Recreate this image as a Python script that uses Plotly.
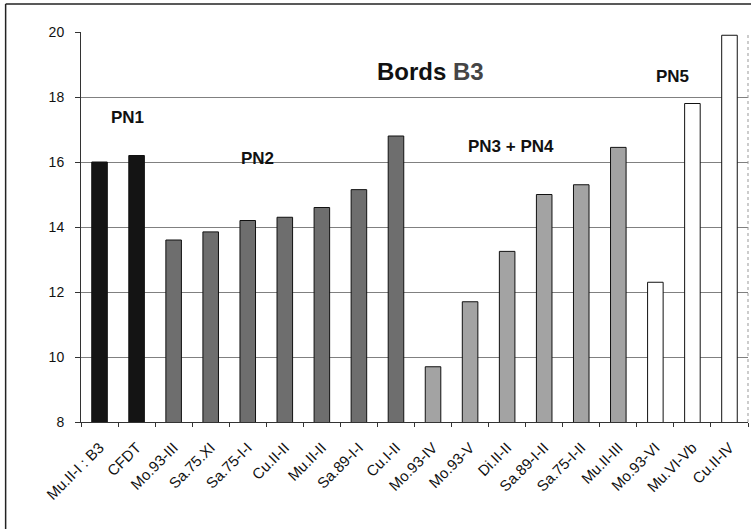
import plotly.graph_objects as go

categories = ["Mu.II-I : B3", "CFDT", "Mo.93-III", "Sa.75.XI", "Sa.75-I-I", "Cu.II-II",
              "Mu.II-II", "Sa.89-I-I", "Cu.I-II", "Mo.93-IV", "Mo.93-V", "Di.II-II",
              "Sa.89-I-II", "Sa.75-I-II", "Mu.II-III", "Mo.93-VI", "Mu.VI-Vb", "Cu.II-IV"]
values = [16.0, 16.2, 13.6, 13.85, 14.2, 14.3, 14.6, 15.15, 16.8,
          9.7, 11.7, 13.25, 15.0, 15.3, 16.45, 12.3, 17.8, 19.9]
groups = ["PN1"] * 2 + ["PN2"] * 7 + ["PN34"] * 6 + ["PN5"] * 3
group_colors = {"PN1": "#141414", "PN2": "#6e6e6e", "PN34": "#a3a3a3", "PN5": "#ffffff"}
group_labels = ["PN1", "PN2", "PN3 + PN4", "PN5"]
label_pos = [(0.07, 0.78), (0.265, 0.675), (0.644, 0.706), (0.887, 0.886)]
y_ticks = [8, 10, 12, 14, 16, 18, 20]

fig = go.Figure()
fig.add_trace(go.Bar(
    x=categories, y=values,
    marker=dict(color=[group_colors[g] for g in groups],
                line=dict(color="#111111", width=1)),
    width=0.42,
))

for lab, (px, py) in zip(group_labels, label_pos):
    fig.add_annotation(text="<b>%s</b>" % lab, x=px, y=py, xref="paper", yref="paper",
                       xanchor="center", yanchor="middle",
                       showarrow=False, font=dict(family="Liberation Sans, Arial", size=17, color="#111111"))
fig.add_annotation(text="<b>Bords <span style='color:#454545'>B3</span></b>", x=0.524, y=0.9,
                   xref="paper", yref="paper", xanchor="center", yanchor="middle", showarrow=False,
                   font=dict(family="Liberation Sans, Arial", size=24, color="#111111"))

# scan frame
fig.add_shape(type="line", xref="paper", yref="paper", x0=-0.113, x1=1.01, y0=1.072, y1=1.072,
              line=dict(color="#222222", width=1.5))
fig.add_shape(type="line", xref="paper", yref="paper", x0=-0.113, x1=-0.113, y0=1.072, y1=-0.275,
              line=dict(color="#222222", width=1.5))
fig.add_shape(type="line", xref="paper", yref="paper", x0=1, x1=1, y0=0, y1=1,
              line=dict(color="#999999", width=1, dash="dot"))

fig.update_layout(
    width=751, height=529,
    margin=dict(l=81, r=3, t=32, b=107),
    paper_bgcolor="white", plot_bgcolor="white",
    showlegend=False,
    font=dict(family="Liberation Sans, Arial", color="#111111"),
    xaxis=dict(tickangle=-45, tickson="boundaries", ticks="outside", ticklen=4,
               tickcolor="#333333", showline=True, linecolor="#333333", linewidth=1,
               tickfont=dict(size=15), ticklabelstandoff=10, showgrid=False),
    yaxis=dict(range=[8, 20], tickvals=y_ticks, ticks="outside", ticklen=5,
               tickcolor="#333333", showline=True, linecolor="#333333", linewidth=1,
               gridcolor="#808080", gridwidth=1, tickfont=dict(size=14),
               ticklabelstandoff=8, zeroline=False),
)
fig.write_html("out.html")
